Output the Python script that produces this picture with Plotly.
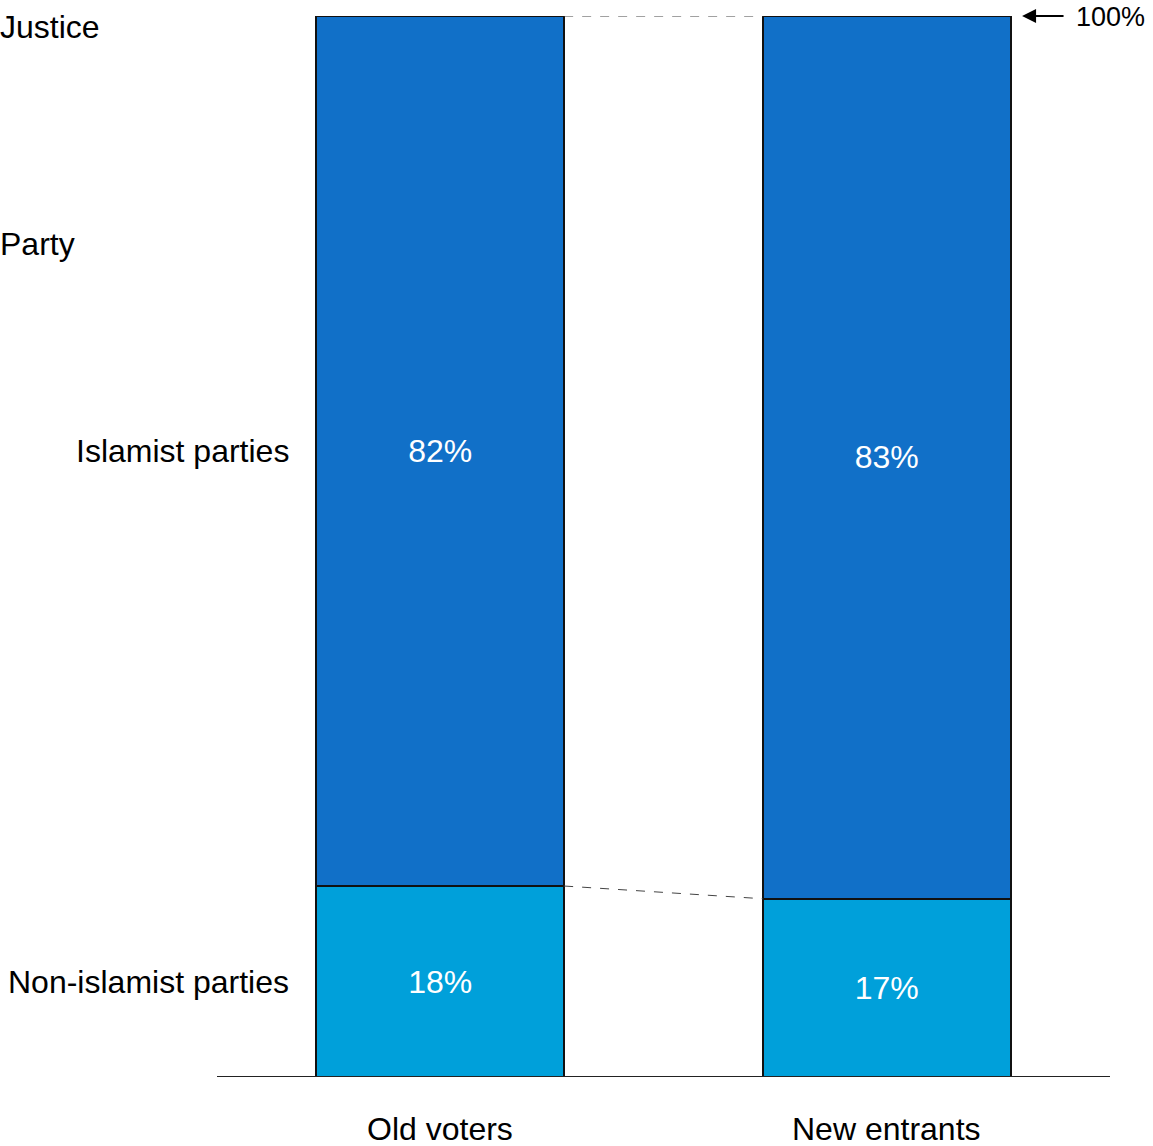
import plotly.graph_objects as go

categories = ["Old voters", "New entrants"]
non_islamist = [18, 16.8]
islamist = [82, 83.2]
non_islamist_text = ["18%", "17%"]
islamist_text = ["82%", "83%"]
series_names = ["Non-islamist parties", "Islamist parties"]

W, H = 1153, 1146
ML, MR, MT, MB = 217, 43, 16, 69
BAR_W = 0.555
FONT = "Liberation Sans, Arial, sans-serif"
FS = 32

xs = list(range(len(categories)))

fig = go.Figure()
fig.add_trace(go.Bar(
    x=xs, y=non_islamist, name=series_names[0], width=BAR_W,
    marker=dict(color="#00A0DA", line=dict(color="#111111", width=2)),
    text=non_islamist_text, textposition="inside", insidetextanchor="middle",
    textangle=0, textfont=dict(color="white", size=FS, family=FONT),
))
fig.add_trace(go.Bar(
    x=xs, y=islamist, name=series_names[1], width=BAR_W,
    marker=dict(color="#1170C8", line=dict(color="#111111", width=2)),
    text=islamist_text, textposition="inside", insidetextanchor="middle",
    textangle=0, textfont=dict(color="white", size=FS, family=FONT),
))

half = BAR_W / 2
tops = [a + b for a, b in zip(non_islamist, islamist)]
shapes = [
    dict(type="line", xref="x", yref="y", x0=xs[0] + half, x1=xs[1] - half,
         y0=tops[0], y1=tops[1], line=dict(color="#444444", width=1, dash="dash")),
    dict(type="line", xref="x", yref="y", x0=xs[0] + half, x1=xs[1] - half,
         y0=non_islamist[0], y1=non_islamist[1], line=dict(color="#444444", width=1, dash="dash")),
    dict(type="line", xref="paper", yref="y", x0=0, x1=1, y0=0, y1=0,
         line=dict(color="#222222", width=2)),
]

pw = W - ML - MR
annotations = []
for x, c in zip(xs, categories):
    annotations.append(dict(x=x, y=0, xref="x", yref="y", text=c, showarrow=False,
                            yanchor="top", yshift=-32, font=dict(size=FS, family=FONT, color="black")))
annotations.append(dict(x=(291 - ML) / pw, y=non_islamist[0] / 2, xref="paper", yref="y",
                        text=series_names[0], showarrow=False, xanchor="right",
                        font=dict(size=FS, family=FONT, color="black")))
annotations.append(dict(x=(291 - ML) / pw, y=non_islamist[0] + islamist[0] / 2, xref="paper", yref="y",
                        text=series_names[1], showarrow=False, xanchor="right",
                        font=dict(size=FS, family=FONT, color="black")))
annotations.append(dict(x=-ML / pw, y=99, xref="paper", yref="y", text="Justice",
                        showarrow=False, xanchor="left", xshift=-2, font=dict(size=FS, family=FONT, color="black")))
annotations.append(dict(x=-ML / pw, y=78.5, xref="paper", yref="y", text="Party",
                        showarrow=False, xanchor="left", xshift=-2, font=dict(size=FS, family=FONT, color="black")))
# 100% arrow and label
annotations.append(dict(x=1.303, y=100, xref="x", yref="y", text="", showarrow=True,
                        ax=43, ay=0, arrowhead=2, arrowsize=1.4, arrowwidth=2, arrowcolor="black",
                        standoff=0))
annotations.append(dict(x=1.42, y=99.9, xref="x", yref="y", text="100%", showarrow=False,
                        xanchor="left", font=dict(size=27, family=FONT, color="black")))

fig.update_layout(
    width=W, height=H, barmode="stack", showlegend=False,
    margin=dict(l=ML, r=MR, t=MT, b=MB, pad=0),
    plot_bgcolor="white", paper_bgcolor="white",
    xaxis=dict(range=[-0.5, 1.5], visible=False, fixedrange=True),
    yaxis=dict(range=[0, 100], visible=False, fixedrange=True),
    shapes=shapes, annotations=annotations,
    uniformtext=dict(mode=False),
)
fig.write_html("out.html", config={"displayModeBar": False},
               post_script="document.body.style.margin='0px';")
